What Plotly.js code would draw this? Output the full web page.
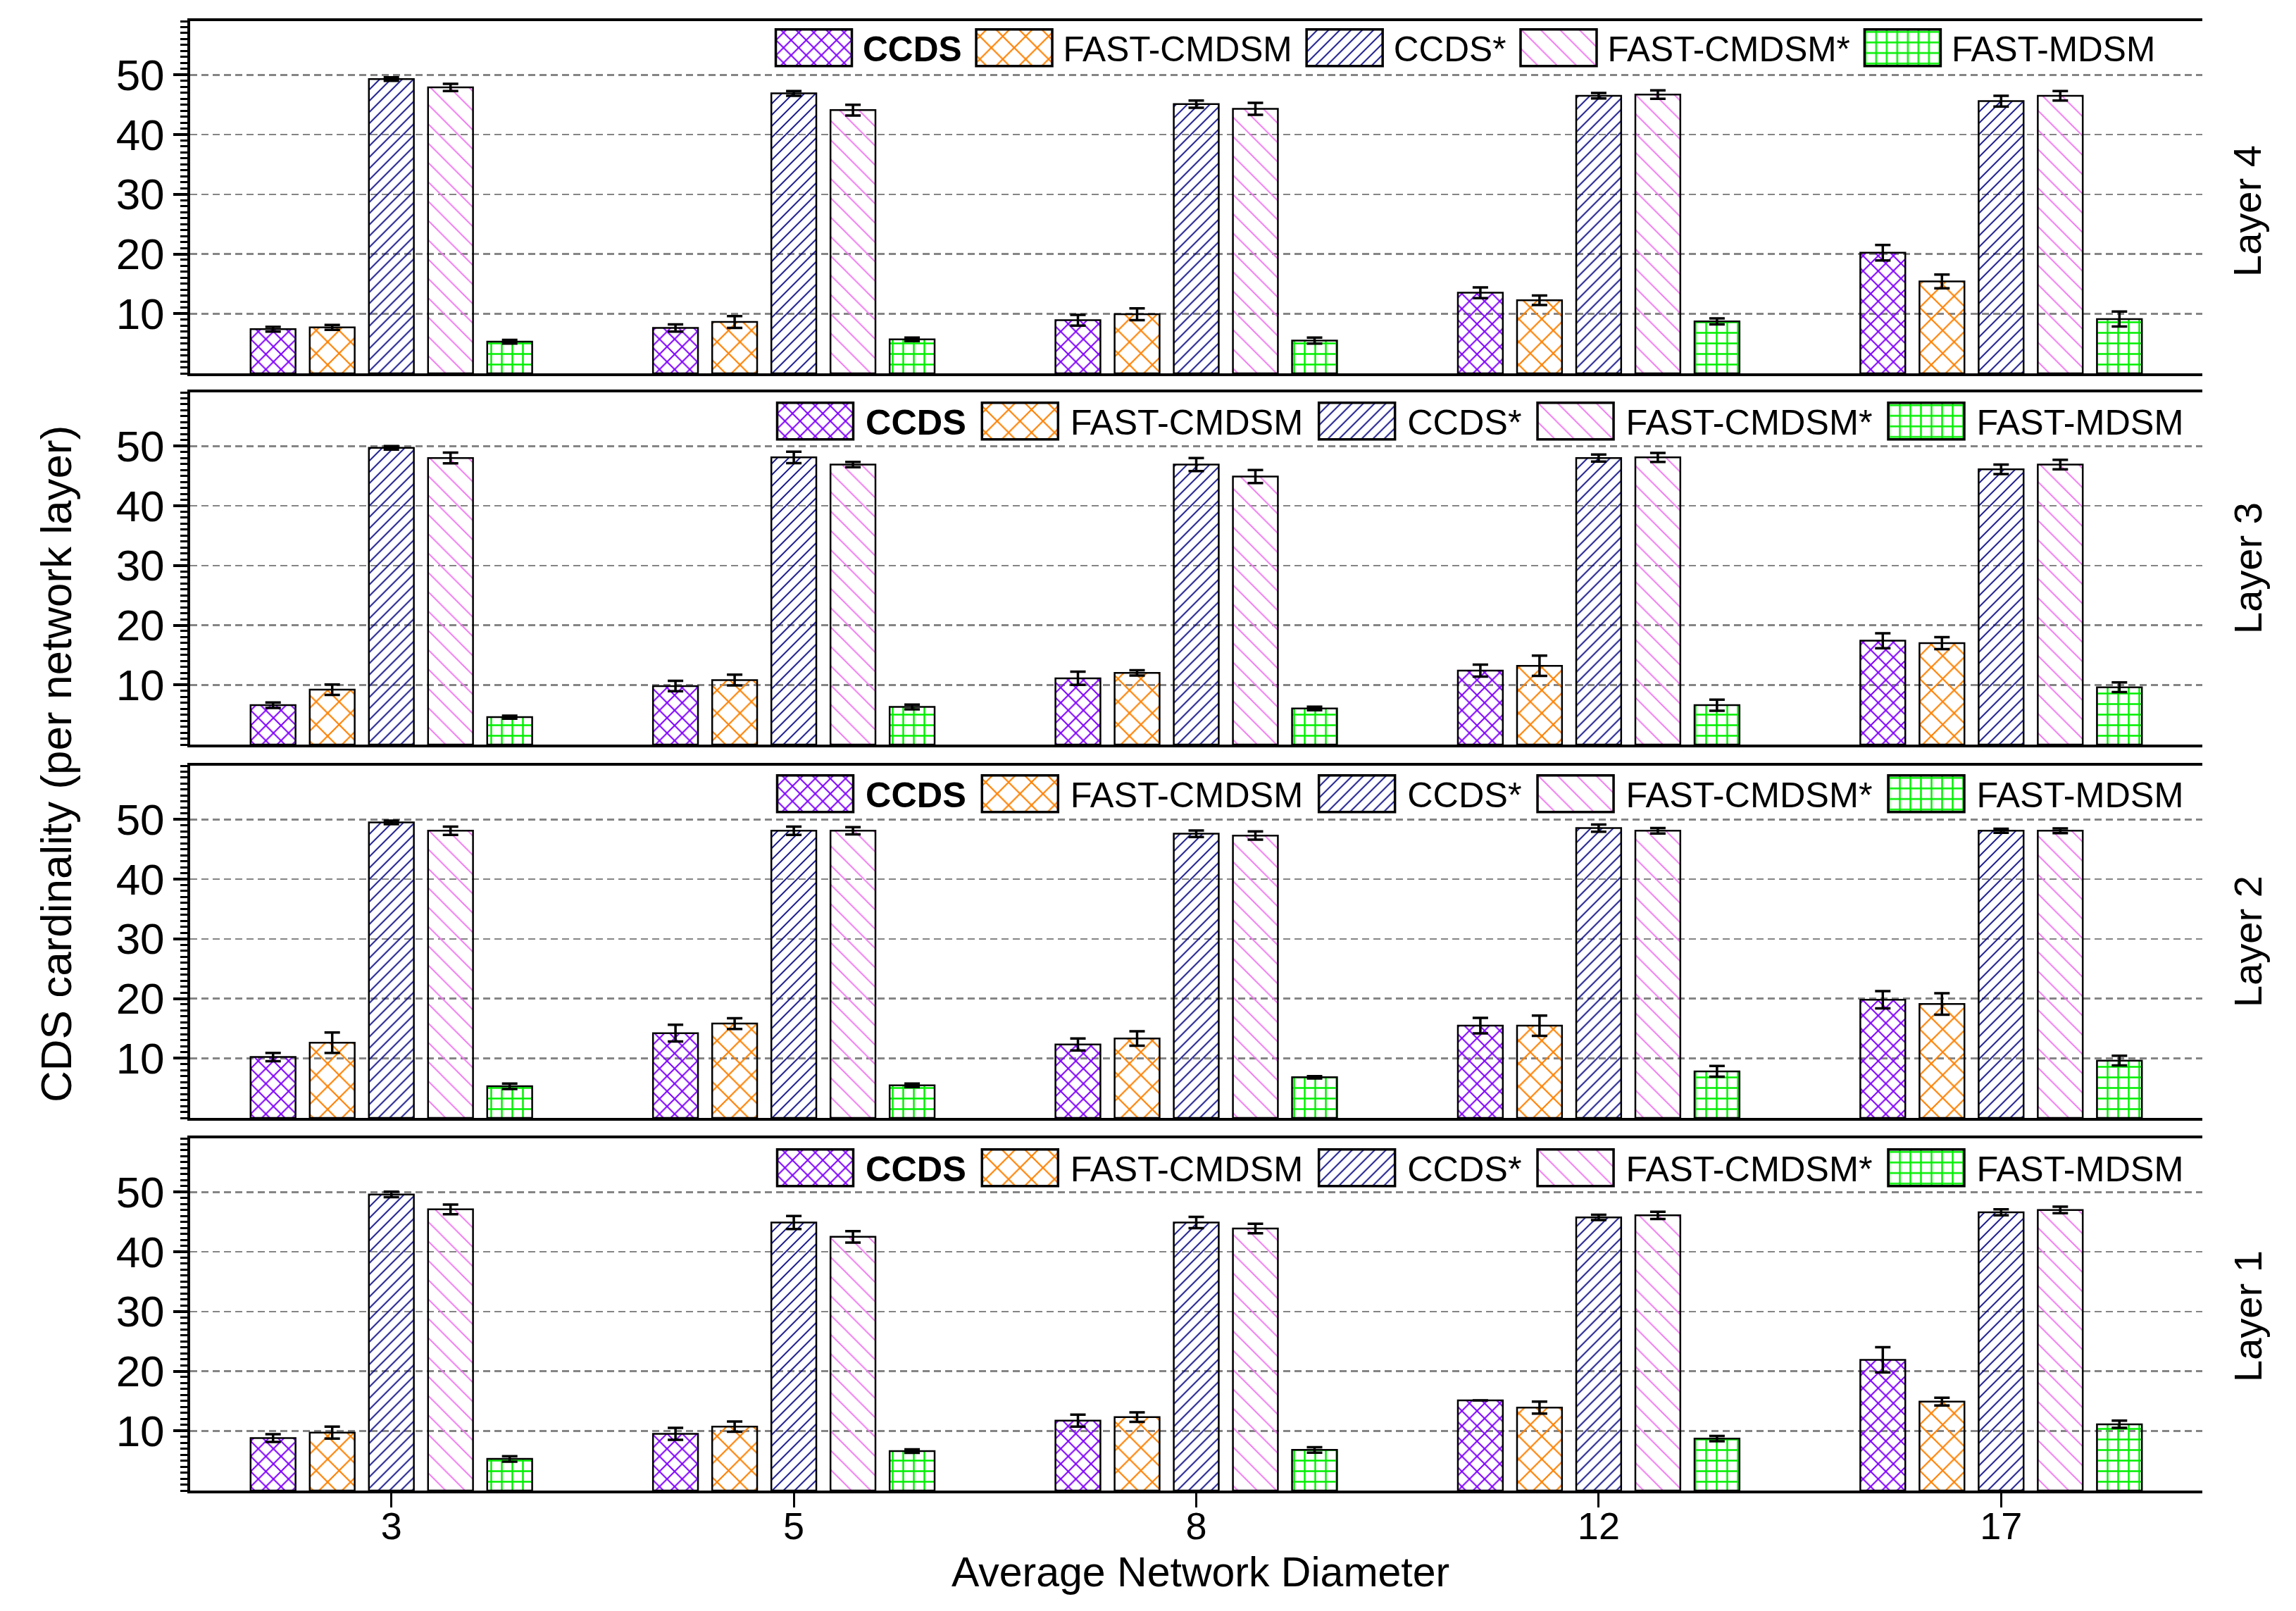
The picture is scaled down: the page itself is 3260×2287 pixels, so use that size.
<!DOCTYPE html>
<html>
<head>
<meta charset="utf-8">
<script src="https://cdn.plot.ly/plotly-3.0.1.min.js"></script>
<style>
  html, body { margin: 0; padding: 0; background: #ffffff; }
  #chart { width: 3260px; height: 2287px; }
</style>
</head>
<body>
<div id="chart"></div>
<script>
// ---------------- data ----------------
const categories = ['3', '5', '8', '12', '17'];
const seriesNames = ['<b>CCDS</b>', 'FAST-CMDSM', 'CCDS*', 'FAST-CMDSM*', 'FAST-MDSM'];
const layerLabels = ['Layer 4', 'Layer 3', 'Layer 2', 'Layer 1'];
const yTickVals = [10, 20, 30, 40, 50];
const yTickText = ['10', '20', '30', '40', '50'];

// Layer 4 (top panel)
const ccdsL4 = [7.4, 7.6, 8.9, 13.5, 20.2];
const ccdsL4Err = [0.4, 0.6, 0.9, 0.9, 1.3];
const fastCmdsmL4 = [7.7, 8.6, 9.9, 12.25, 15.4];
const fastCmdsmL4Err = [0.4, 1.0, 1.0, 0.8, 1.15];
const ccdsStarL4 = [49.3, 46.9, 45.1, 46.5, 45.6];
const ccdsStarL4Err = [0.3, 0.4, 0.6, 0.45, 0.9];
const fastCmdsmStarL4 = [47.9, 44.1, 44.3, 46.7, 46.5];
const fastCmdsmStarL4Err = [0.6, 0.9, 1.0, 0.7, 0.8];
const fastMdsmL4 = [5.3, 5.7, 5.5, 8.7, 9.1];
const fastMdsmL4Err = [0.3, 0.3, 0.5, 0.5, 1.25];

// Layer 3
const ccdsL3 = [6.6, 9.8, 11.1, 12.4, 17.4];
const ccdsL3Err = [0.45, 0.87, 1.1, 1.0, 1.25];
const fastCmdsmL3 = [9.2, 10.8, 12.0, 13.2, 17.0];
const fastCmdsmL3Err = [0.87, 0.9, 0.45, 1.7, 1.0];
const ccdsStarL3 = [49.7, 48.1, 46.9, 48.0, 46.1];
const ccdsStarL3Err = [0.3, 0.95, 1.1, 0.6, 0.8];
const fastCmdsmStarL3 = [48.0, 46.9, 44.9, 48.1, 46.9];
const fastCmdsmStarL3Err = [0.9, 0.45, 1.1, 0.75, 0.8];
const fastMdsmL3 = [4.6, 6.3, 6.05, 6.6, 9.6];
const fastMdsmL3Err = [0.25, 0.4, 0.3, 0.93, 0.8];

// Layer 2
const ccdsL2 = [10.2, 14.2, 12.3, 15.45, 19.8];
const ccdsL2Err = [0.7, 1.4, 1.0, 1.3, 1.45];
const fastCmdsmL2 = [12.6, 15.8, 13.3, 15.45, 19.1];
const fastCmdsmL2Err = [1.7, 0.9, 1.2, 1.7, 1.8];
const ccdsStarL2 = [49.5, 48.1, 47.6, 48.55, 48.1];
const ccdsStarL2Err = [0.3, 0.7, 0.55, 0.6, 0.35];
const fastCmdsmStarL2 = [48.1, 48.1, 47.3, 48.1, 48.1];
const fastCmdsmStarL2Err = [0.7, 0.6, 0.7, 0.45, 0.4];
const fastMdsmL2 = [5.3, 5.45, 6.8, 7.8, 9.6];
const fastMdsmL2Err = [0.45, 0.3, 0.2, 0.9, 0.8];

// Layer 1 (bottom panel)
const ccdsL1 = [8.8, 9.5, 11.7, 15.1, 21.9];
const ccdsL1Err = [0.65, 1.0, 1.0, null, 2.1];
const fastCmdsmL1 = [9.7, 10.7, 12.3, 13.9, 14.9];
const fastCmdsmL1Err = [1.0, 0.85, 0.8, 1.0, 0.65];
const ccdsStarL1 = [49.6, 44.9, 44.9, 45.75, 46.6];
const ccdsStarL1Err = [0.45, 1.1, 0.95, 0.45, 0.5];
const fastCmdsmStarL1 = [47.1, 42.5, 43.9, 46.1, 47.0];
const fastCmdsmStarL1Err = [0.8, 0.95, 0.8, 0.6, 0.55];
const fastMdsmL1 = [5.3, 6.6, 6.8, 8.7, 11.1];
const fastMdsmL1Err = [0.45, 0.3, 0.45, 0.45, 0.6];

// ---------------- styling ----------------
const FONT = '"Liberation Sans", Arial, Helvetica, sans-serif';
const styles = [
  { color: '#8000FF', shape: 'x',  size: 15.2, solidity: 0.25 },
  { color: '#FF8000', shape: 'x',  size: 23,   solidity: 0.18 },
  { color: '#000080', shape: '/',  size: 11.3, solidity: 0.16 },
  { color: '#F07CF0', shape: '\\', size: 19.4, solidity: 0.10 },
  { color: '#00F000', shape: '+',  size: 15,   solidity: 0.30 }
];

const panels = [
  { vals: [ccdsL4, fastCmdsmL4, ccdsStarL4, fastCmdsmStarL4, fastMdsmL4],
    errs: [ccdsL4Err, fastCmdsmL4Err, ccdsStarL4Err, fastCmdsmStarL4Err, fastMdsmL4Err] },
  { vals: [ccdsL3, fastCmdsmL3, ccdsStarL3, fastCmdsmStarL3, fastMdsmL3],
    errs: [ccdsL3Err, fastCmdsmL3Err, ccdsStarL3Err, fastCmdsmStarL3Err, fastMdsmL3Err] },
  { vals: [ccdsL2, fastCmdsmL2, ccdsStarL2, fastCmdsmStarL2, fastMdsmL2],
    errs: [ccdsL2Err, fastCmdsmL2Err, ccdsStarL2Err, fastCmdsmStarL2Err, fastMdsmL2Err] },
  { vals: [ccdsL1, fastCmdsmL1, ccdsStarL1, fastCmdsmStarL1, fastMdsmL1],
    errs: [ccdsL1Err, fastCmdsmL1Err, ccdsStarL1Err, fastCmdsmStarL1Err, fastMdsmL1Err] }
];

// pixel geometry -> paper fractions
const W = 3260, H = 2287;
const M = { l: 270, r: 133, t: 30, b: 171 };
const plotW = W - M.l - M.r, plotH = H - M.t - M.b;
const panelTops = [30, 557, 1087, 1616];
const panelH = 500;
const py = (px) => 1 - (px - M.t) / plotH;
const pxX = (px) => (px - M.l) / plotW;

const legendCenters = [68, 598, 1127, 1658];
const legendLeft = [1086, 1086, 1086, 1086];
const legendFont = [49.6, 50.4, 50.4, 50.4];
const legendItemWidth = [129, 133, 133, 133];
const layerCenters = [300, 807, 1337, 1869];

const data = [];
panels.forEach((p, i) => {
  const ax = i === 0 ? '' : String(i + 1);
  p.vals.forEach((v, s) => {
    data.push({
      type: 'bar',
      x: categories,
      y: v,
      name: seriesNames[s],
      xaxis: 'x' + ax,
      yaxis: 'y' + ax,
      legend: 'legend' + ax,
      marker: {
        color: styles[s].color,
        line: { color: '#000000', width: 2.5 },
        pattern: {
          shape: styles[s].shape,
          size: styles[s].size,
          solidity: styles[s].solidity,
          fgcolor: styles[s].color,
          fillmode: 'replace'
        }
      },
      error_y: {
        type: 'data',
        array: p.errs[s],
        visible: true,
        color: '#000000',
        thickness: 3.5,
        width: 11
      },
      hoverinfo: 'skip'
    });
  });
});

const layout = {
  width: W,
  height: H,
  margin: M,
  paper_bgcolor: '#ffffff',
  plot_bgcolor: 'rgba(0,0,0,0)',
  barmode: 'group',
  bargap: 0.265,
  bargroupgap: 0.24,
  font: { family: FONT, color: '#000000', size: 48 },
  showlegend: true,
  annotations: []
};

panels.forEach((p, i) => {
  const ax = i === 0 ? '' : String(i + 1);
  const top = panelTops[i], bot = panelTops[i] + panelH;
  const dom = [Math.max(0, py(bot)), Math.min(1, py(top))];
  const isBottom = i === panels.length - 1;

  layout['xaxis' + ax] = {
    type: 'category',
    categoryorder: 'array',
    categoryarray: categories,
    range: [-0.5, 4.5],
    anchor: 'y' + ax,
    domain: [0, 1],
    showline: true,
    linewidth: 4,
    linecolor: '#000000',
    mirror: true,
    showgrid: false,
    zeroline: false,
    ticks: isBottom ? 'outside' : '',
    ticklen: 20,
    tickwidth: 3,
    tickcolor: '#000000',
    showticklabels: isBottom,
    ticklabelstandoff: -20,
    tickfont: { family: FONT, size: 54, color: '#000000' },
    fixedrange: true
  };

  layout['yaxis' + ax] = {
    domain: dom,
    anchor: 'x' + ax,
    range: [0, 59],
    tickmode: 'array',
    tickvals: yTickVals,
    ticktext: yTickText,
    ticks: 'outside',
    ticklen: 20,
    tickwidth: 4,
    tickcolor: '#000000',
    minor: { tickmode: 'linear', tick0: 0, dtick: 1, ticks: 'outside', ticklen: 10, tickwidth: 3, tickcolor: '#000000', showgrid: false },
    tickfont: { family: FONT, size: 62, color: '#000000' },
    showline: true,
    linewidth: 4,
    linecolor: '#000000',
    mirror: false,
    showgrid: true,
    gridcolor: '#858585',
    gridwidth: 2.5,
    griddash: '10px,6px',
    zeroline: false,
    fixedrange: true
  };

  // right-hand axis with inward ticks
  const rId = String(i + 5);
  layout['yaxis' + rId] = {
    overlaying: 'y' + ax,
    anchor: 'x' + ax,
    side: 'right',
    range: [0, 59],
    tickmode: 'array',
    tickvals: yTickVals,
    ticktext: yTickText,
    ticks: 'inside',
    ticklen: 20,
    tickwidth: 4,
    tickcolor: '#000000',
    minor: { tickmode: 'linear', tick0: 0, dtick: 1, ticks: 'inside', ticklen: 10, tickwidth: 3, tickcolor: '#000000', showgrid: false },
    showticklabels: false,
    showline: true,
    linewidth: 4,
    linecolor: '#000000',
    showgrid: false,
    zeroline: false,
    fixedrange: true
  };

  layout['legend' + ax] = {
    orientation: 'h',
    x: pxX(legendLeft[i]),
    xanchor: 'left',
    y: py(legendCenters[i]),
    yanchor: 'middle',
    bgcolor: 'rgba(0,0,0,0)',
    borderwidth: 0,
    itemwidth: legendItemWidth[i],
    valign: 'middle',
    traceorder: 'normal',
    itemclick: false,
    itemdoubleclick: false,
    font: { family: FONT, size: legendFont[i], color: '#000000' }
  };

  layout.annotations.push({
    xref: 'paper', yref: 'paper',
    x: pxX(3191), y: py(layerCenters[i]),
    xanchor: 'center', yanchor: 'middle',
    text: layerLabels[i],
    textangle: -90,
    showarrow: false,
    font: { family: FONT, size: 56, color: '#000000' }
  });
});

layout.annotations.push({
  xref: 'paper', yref: 'paper',
  x: pxX(79), y: py(1085),
  xanchor: 'center', yanchor: 'middle',
  text: 'CDS cardinality (per network layer)',
  textangle: -90,
  showarrow: false,
  font: { family: FONT, size: 62, color: '#000000' }
});
layout.annotations.push({
  xref: 'paper', yref: 'paper',
  x: pxX(1704), y: py(2232),
  xanchor: 'center', yanchor: 'middle',
  text: 'Average Network Diameter',
  showarrow: false,
  font: { family: FONT, size: 59, color: '#000000' }
});

const gd = document.getElementById('chart');
Plotly.newPlot(gd, data, layout, { displayModeBar: false, staticPlot: true }).then(() => {
  // enlarge legend swatches and give them the same pattern fill as the bars
  const fills = {};
  gd.querySelectorAll('g.trace.bars').forEach(g => {
    const cd = g.__data__;
    if (!cd || !cd[0] || !cd[0].trace) return;
    const pth = g.querySelector('g.point path');
    if (pth) fills[cd[0].trace.uid] = pth.style.fill;
  });
  gd.querySelectorAll('g.traces').forEach(g => {
    const d = g.__data__;
    if (!d || !d[0] || !d[0].trace) return;
    const uid = d[0].trace.uid;
    g.querySelectorAll('g.legendpoints path').forEach(pth => {
      pth.setAttribute('d', 'M54,26H-54V-26H54Z');
      if (fills[uid]) pth.style.fill = fills[uid];
      pth.style.strokeWidth = '3.5px';
      pth.style.stroke = '#000000';
    });
  });
});
</script>
</body>
</html>
